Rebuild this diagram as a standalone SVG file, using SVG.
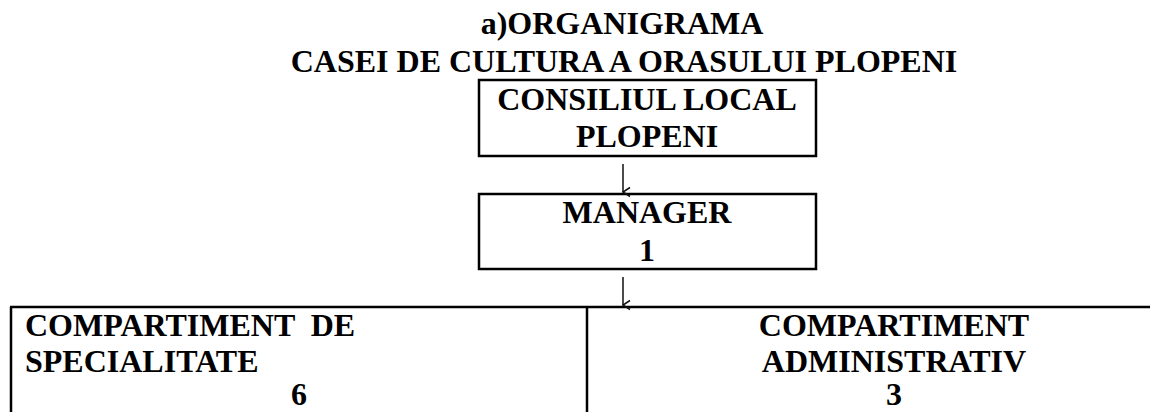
<svg xmlns="http://www.w3.org/2000/svg" width="1150" height="412" viewBox="0 0 1150 412">
<defs>
<style>
text{font-family:'Liberation Serif','Times New Roman',Tinos,'DejaVu Serif',serif;font-weight:700;font-size:32px;fill:#000}
.c{text-anchor:middle}
.box{fill:none;stroke:#000;stroke-width:2.5}
.tl{fill:none;stroke:#000;stroke-width:2.5}
.conn{fill:none;stroke:#111;stroke-width:1.5}
</style>
<marker id="ah" viewBox="0 0 12 12" refX="6" refY="11" markerWidth="12" markerHeight="12" markerUnits="userSpaceOnUse" orient="auto">
<path d="M1.5,4 L6,11 L10.5,4" fill="none" stroke="#111" stroke-width="1.5"/>
</marker>
</defs>
<rect width="1150" height="412" fill="#fff"/>
<g id="title" font-family="Liberation Serif, serif" font-weight="bold">
<text class="c" x="622" y="34">a)ORGANIGRAMA</text>
<text class="c" x="624" y="71.5">CASEI DE CULTURA A ORASULUI PLOPENI</text>
</g>
<g id="consiliul" font-family="Liberation Serif, serif" font-weight="bold">
<rect class="box" x="479" y="80" width="337" height="76"/>
<text class="c" x="647" y="109.5">CONSILIUL LOCAL</text>
<text class="c" x="647" y="147">PLOPENI</text>
</g>
<g id="manager" font-family="Liberation Serif, serif" font-weight="bold">
<rect class="box" x="479" y="194" width="337" height="75"/>
<text class="c" x="647" y="223">MANAGER</text>
<text class="c" x="647" y="260.5">1</text>
</g>
<g id="compartiment-specialitate" font-family="Liberation Serif, serif" font-weight="bold">
<path class="tl" d="M11,307 V412"/>
<text x="25" y="335.5" xml:space="preserve">COMPARTIMENT  DE</text>
<text x="25" y="372">SPECIALITATE</text>
<text class="c" x="299" y="405">6</text>
</g>
<g id="compartiment-administrativ" font-family="Liberation Serif, serif" font-weight="bold">
<path class="tl" d="M587,307 V412"/>
<text class="c" x="894" y="335.5">COMPARTIMENT</text>
<text class="c" x="894" y="372">ADMINISTRATIV</text>
<text class="c" x="894" y="405">3</text>
</g>
<g id="connectors">
<path class="tl" d="M10,307 H1150"/>
<path class="conn" d="M623,164 V192" marker-end="url(#ah)"/>
<path class="conn" d="M623,277 V305" marker-end="url(#ah)"/>
</g>
</svg>
